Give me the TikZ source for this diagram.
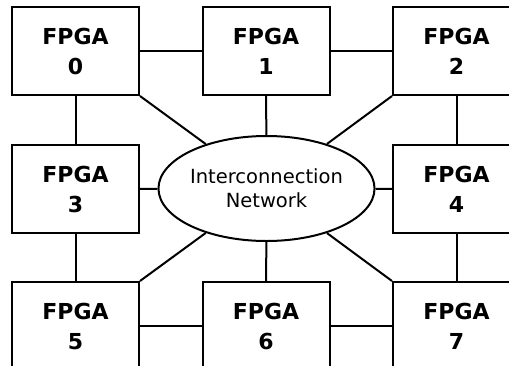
\documentclass[tikz,border=0pt]{standalone}
\usepackage{fontspec}
\setmainfont{DejaVu Sans}
\usetikzlibrary{shapes.geometric}
\tikzset{
  fpga/.style={draw, line width=2pt, minimum width=127pt, minimum height=88pt, align=center, font=\bfseries\fontsize{22}{30}\selectfont},
  net/.style={draw, ellipse, line width=2pt, minimum width=167pt, minimum height=105pt, inner sep=0pt, align=center, font=\fontsize{19.5}{24}\selectfont},
  link/.style={line width=2pt}
}
\begin{document}
\begin{tikzpicture}[x=1pt,y=-1pt]
                \clip (0,0) rectangle (509,365);
                \node[fpga] (f0) at (75.5,51) {FPGA\\0};
                \node[fpga] (f1) at (266,51) {FPGA\\1};
                \node[fpga] (f2) at (456.5,51) {FPGA\\2};
                \node[fpga] (f3) at (75.5,189) {FPGA\\3};
                \node[fpga] (f4) at (456.5,189) {FPGA\\4};
                \node[fpga] (f5) at (75.5,326) {FPGA\\5};
                \node[fpga] (f6) at (266,326) {FPGA\\6};
                \node[fpga] (f7) at (456.5,326) {FPGA\\7};
                \node[net] (icn) at (266.5,188.5) {Interconnection\\Network};

                \draw[link] (f0) to (f1); \draw[link] (f1) to (f2); \draw[link] (f5) to (f6); \draw[link] (f6) to (f7);
                \draw[link] (f0) to (f3); \draw[link] (f3) to (f5); \draw[link] (f2) to (f4); \draw[link] (f4) to (f7);
                \draw[link] (f1) to (icn); \draw[link] (f3) to (icn); \draw[link] (f4) to (icn); \draw[link] (f6) to (icn);
                \draw[link] (f0.south east) to (icn); \draw[link] (f2.south west) to (icn); \draw[link] (f5.north east) to (icn); \draw[link] (f7.north west) to (icn);
            \end{tikzpicture}
\end{document}
